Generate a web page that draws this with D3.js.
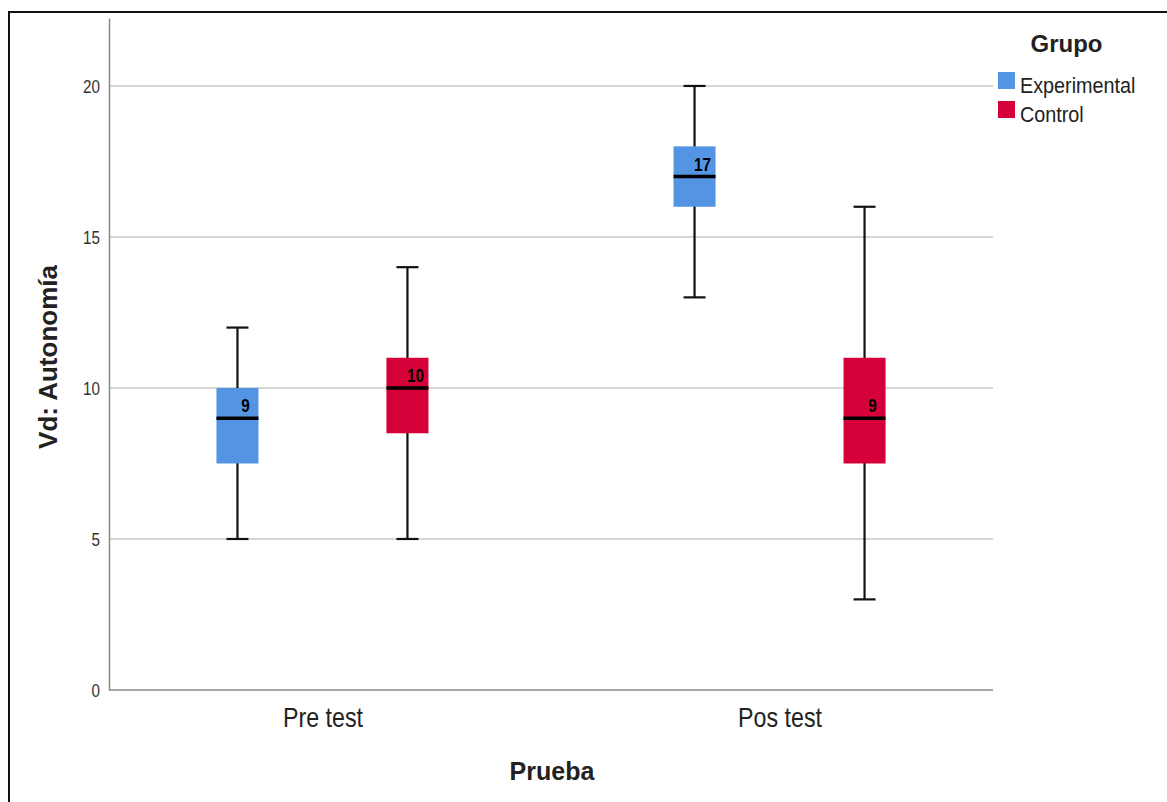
<!DOCTYPE html>
<html>
<head>
<meta charset="utf-8">
<script src="https://cdn.jsdelivr.net/npm/d3@7"></script>
<style>
  body { margin: 0; background: #fff; }
  text { font-family: Arial, "Liberation Sans", sans-serif; }
</style>
</head>
<body>
<div id="chart"></div>
<script>
// data
var pruebas = ["Pre test", "Pos test"];
var grupos = ["Experimental", "Control"];
var colores = ["#5395e3", "#d5003a"];
// [min, q1, median, q3, max] per prueba, per grupo
var expStats = [[5, 7.5, 9, 10, 12], [13, 16, 17, 18, 20]];
var ctrlStats = [[5, 8.5, 10, 11, 14], [3, 7.5, 9, 11, 16]];
var yTicks = [0, 5, 10, 15, 20];

var W = 1167, H = 802;
var margin = { top: 18, right: 174, bottom: 112, left: 109 };

var svg = d3.select("#chart").append("svg")
  .attr("width", W)
  .attr("height", H);

// frame round the picture (only top and left edges show)
svg.append("path")
  .attr("d", "M9," + H + "V12H" + W)
  .attr("fill", "none")
  .attr("stroke", "#111")
  .attr("stroke-width", 2);

var x = d3.scalePoint()
  .domain(pruebas)
  .range([margin.left, W - margin.right])
  .padding(0.467);

var y = d3.scaleLinear()
  .domain([0, 22.25])
  .range([H - margin.bottom, margin.top]);

var offset = d3.scalePoint().domain(grupos).range([-85, 85]);

// grid
svg.append("g")
  .selectAll("line")
  .data(yTicks.filter(d => d > 0))
  .join("line")
  .attr("x1", margin.left)
  .attr("x2", W - margin.right)
  .attr("y1", d => y(d))
  .attr("y2", d => y(d))
  .attr("stroke", "#c8c8c8")
  .attr("stroke-width", 1.5);

// y axis
var yAxis = svg.append("g")
  .attr("transform", "translate(" + margin.left + ",0)")
  .call(d3.axisLeft(y).tickValues(yTicks).tickSize(0).tickPadding(9));
yAxis.select(".domain").attr("stroke", "#888").attr("stroke-width", 1.5);
yAxis.selectAll("text")
  .attr("font-size", 19)
  .attr("fill", "#333")
  .attr("dy", "0.36em")
  .attr("transform", "translate(-9,0) scale(0.8,1)")
  .attr("x", 0);

// x axis
var xAxis = svg.append("g")
  .attr("transform", "translate(0," + (H - margin.bottom) + ")")
  .call(d3.axisBottom(x).tickSize(0));
xAxis.select(".domain").attr("stroke", "#888").attr("stroke-width", 1.5)
  .attr("d", "M" + margin.left + ",0H" + (W - margin.right));
xAxis.selectAll("text")
  .attr("font-size", 27).attr("fill", "#222")
  .attr("y", 37).attr("dy", null)
  .attr("transform", "scale(0.86,1)");

// boxes
var boxes = [];
pruebas.forEach((p, i) => {
  boxes.push({ prueba: p, grupo: grupos[0], color: colores[0], s: expStats[i] });
  boxes.push({ prueba: p, grupo: grupos[1], color: colores[1], s: ctrlStats[i] });
});

var bw = 42, cap = 22;
var g = svg.append("g")
  .selectAll("g")
  .data(boxes)
  .join("g")
  .attr("transform", d => "translate(" + (x(d.prueba) + offset(d.grupo)) + ",0)");

g.append("line")
  .attr("y1", d => y(d.s[0])).attr("y2", d => y(d.s[4]))
  .attr("stroke", "#111").attr("stroke-width", 2.2);
g.append("line")
  .attr("x1", -cap / 2).attr("x2", cap / 2)
  .attr("y1", d => y(d.s[0])).attr("y2", d => y(d.s[0]))
  .attr("stroke", "#111").attr("stroke-width", 2.2);
g.append("line")
  .attr("x1", -cap / 2).attr("x2", cap / 2)
  .attr("y1", d => y(d.s[4])).attr("y2", d => y(d.s[4]))
  .attr("stroke", "#111").attr("stroke-width", 2.2);
g.append("rect")
  .attr("x", -bw / 2).attr("width", bw)
  .attr("y", d => y(d.s[3]))
  .attr("height", d => y(d.s[1]) - y(d.s[3]))
  .attr("fill", d => d.color);
g.append("line")
  .attr("x1", -bw / 2).attr("x2", bw / 2)
  .attr("y1", d => y(d.s[2])).attr("y2", d => y(d.s[2]))
  .attr("stroke", "#000").attr("stroke-width", 3.5);
g.append("text")
  .attr("transform", d => "translate(8," + (y(d.s[2]) - 6) + ") scale(0.85,1)")
  .attr("text-anchor", "middle")
  .attr("font-size", 18)
  .attr("font-weight", "bold")
  .attr("fill", "#000")
  .text(d => d.s[2]);

// axis titles
svg.append("text")
  .attr("x", 552)
  .attr("y", 780)
  .attr("text-anchor", "middle")
  .attr("font-size", 25)
  .attr("font-weight", "bold")
  .attr("fill", "#222")
  .text("Prueba");

svg.append("text")
  .attr("transform", "translate(57,357) rotate(-90)")
  .attr("text-anchor", "middle")
  .attr("font-size", 26)
  .attr("font-weight", "bold")
  .attr("fill", "#222")
  .text("Vd: Autonomía");

// legend
var lg = svg.append("g").attr("transform", "translate(998,0)");
lg.append("text")
  .attr("x", 68.5).attr("y", 52)
  .attr("text-anchor", "middle")
  .attr("font-size", 24).attr("font-weight", "bold").attr("fill", "#222")
  .text("Grupo");
var items = lg.selectAll("g.item")
  .data(grupos)
  .join("g")
  .attr("class", "item")
  .attr("transform", (d, i) => "translate(0," + (72 + i * 29) + ")");
items.append("rect")
  .attr("width", 17).attr("height", 17)
  .attr("fill", (d, i) => colores[i]);
items.append("text")
  .attr("transform", "translate(22,21) scale(0.9,1)")
  .attr("font-size", 22)
  .attr("fill", "#222")
  .text(d => d);
</script>
</body>
</html>
